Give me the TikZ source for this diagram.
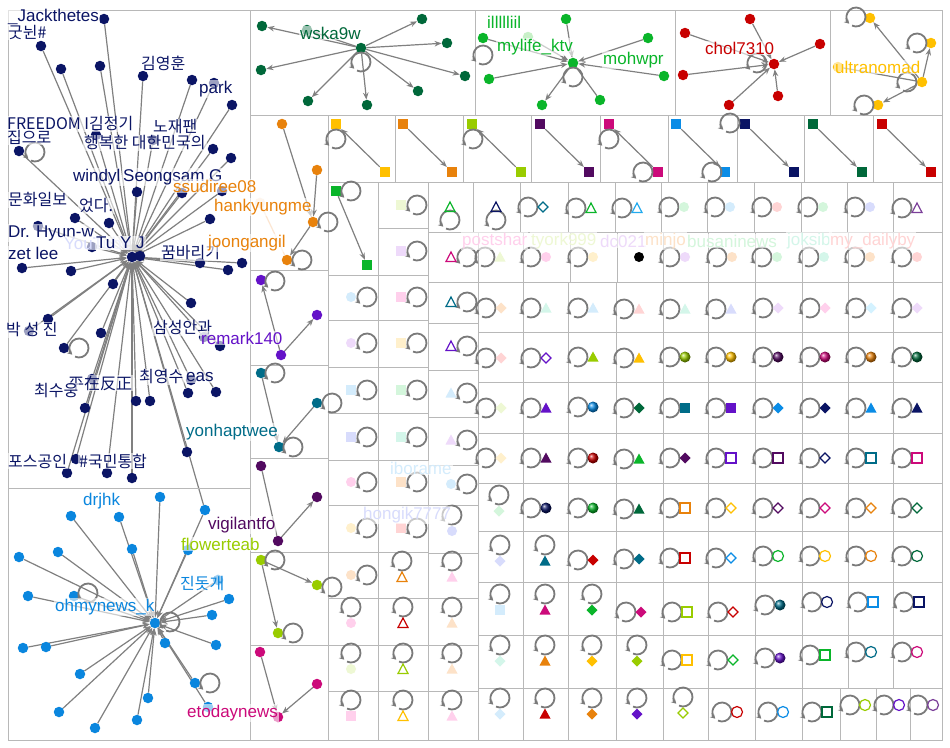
\documentclass[tikz,border=0pt]{standalone}
\usepackage{fontspec}
\setmainfont{Liberation Sans}
\newfontfamily\kr{Noto Sans CJK KR}
\usetikzlibrary{arrows.meta}
\pgfdeclarelayer{bg}
\pgfsetlayers{bg,main}
\definecolor{gridc}{HTML}{B8B8B8}
\definecolor{edgec}{HTML}{808080}
\definecolor{loopc}{HTML}{7A7A7A}
\definecolor{nvy}{HTML}{0B1565}
\definecolor{ohb}{HTML}{0A86DE}
\definecolor{dgreen}{HTML}{00683A}
\definecolor{green}{HTML}{0AB52A}
\definecolor{red}{HTML}{C80000}
\definecolor{amber}{HTML}{FFC000}
\definecolor{orange}{HTML}{E8820C}
\definecolor{lime}{HTML}{99CC00}
\definecolor{dpurple}{HTML}{520A60}
\definecolor{violet}{HTML}{6412C8}
\definecolor{magenta}{HTML}{CC0A7A}
\definecolor{blue}{HTML}{0A8CE6}
\definecolor{navy}{HTML}{0A1464}
\definecolor{teal}{HTML}{006C88}
\definecolor{skyb}{HTML}{22AAEE}
\definecolor{purple}{HTML}{7B3F99}
\definecolor{lpnk}{HTML}{FFD0EC}
\definecolor{lsal}{HTML}{FFD4D4}
\definecolor{lpch}{HTML}{FDE2C8}
\definecolor{lpch2}{HTML}{FFF0CC}
\definecolor{lyel}{HTML}{EEF8D4}
\definecolor{lgrn}{HTML}{D4F6DC}
\definecolor{lmnt}{HTML}{D4F6EA}
\definecolor{lblu}{HTML}{D4ECFC}
\definecolor{lcyn}{HTML}{D4F2FF}
\definecolor{lper}{HTML}{D8DCFC}
\definecolor{llav}{HTML}{EEDAFA}
\definecolor{fadeo}{HTML}{FCE6D2}
\definecolor{fgrn}{HTML}{C8F0C8}
\def\zLp#1#2{\draw[lps] (#1,#2) ++(245:9.5pt) arc[start angle=245,end angle=585,radius=9.5pt];}
\def\zFc#1#2#3{\fill[#1] (#2,#3) circle[radius=5pt];}
\def\zOc#1#2#3{\draw[#1,osh] (#2,#3) circle[radius=5.5pt];}
\def\zSp#1#2#3{\shade[ball color=#1] (#2,#3) circle[radius=5.5pt];}
\def\zFs#1#2#3{\fill[#1] (#2-5,#3-5) rectangle (#2+5,#3+5);}
\def\zOs#1#2#3{\draw[#1,osh] (#2-5,#3-5) rectangle (#2+5,#3+5);}
\def\zFt#1#2#3{\fill[#1] (#2-5.5,#3+4.5) -- (#2+5.5,#3+4.5) -- (#2,#3-5.5) -- cycle;}
\def\zOt#1#2#3{\draw[#1,osh] (#2-5,#3+4.5) -- (#2+5,#3+4.5) -- (#2,#3-5) -- cycle;}
\def\zFd#1#2#3{\fill[#1] (#2,#3-5.5) -- (#2+5.5,#3) -- (#2,#3+5.5) -- (#2-5.5,#3) -- cycle;}
\def\zOd#1#2#3{\draw[#1,osh] (#2,#3-5) -- (#2+5,#3) -- (#2,#3+5) -- (#2-5,#3) -- cycle;}
\def\zCR#1#2#3#4{\zLp{#3}{#4}#1{#2}{#3+15}{#4}}
\def\zCL#1#2#3#4{\zLp{#3}{#4}#1{#2}{#3-16}{#4}}
\def\zCD#1#2#3#4{\zLp{#3}{#4}#1{#2}{#3}{#4+16}}
\def\zCU#1#2#3#4{\zLp{#3}{#4}#1{#2}{#3}{#4-13}}
\begin{document}
\begin{tikzpicture}[x=1pt,y=-1pt,
 gr/.style={draw=gridc, line width=1pt},
 ed/.style={draw=edgec, line width=1.2pt},
 ea/.style={ed, -{Stealth[length=7pt,width=5.5pt]}},
 lps/.style={draw=loopc, line width=1.8pt, -{Stealth[length=5pt,width=5.5pt]}},
 osh/.style={line width=1.2pt},
 nd/.style={circle, inner sep=0pt, minimum size=10.5pt},
 sqn/.style={rectangle, inner sep=0pt, minimum size=10pt},
 lb/.style={anchor=west, inner sep=1pt, fill=white, fill opacity=0.6, text opacity=1, font=\fontsize{17}{19}\selectfont},
 lbk/.style={lb, font=\kr\fontsize{16}{19}\selectfont}]
\useasboundingbox (0,0) rectangle (950,747);
\begin{pgfonlayer}{bg}
\fill[white] (0,0) rectangle (950,747);
\end{pgfonlayer}
% ---------- grid ----------
\draw[gr] (8,10) rectangle (250,488);
\draw[gr] (8,488) rectangle (250,740);
\foreach \a/\b in {250/475,475/675,675/830,830/942} \draw[gr] (\a,10) rectangle (\b,115);
\foreach \a/\b in {115/270,270/365,365/458,458/552,552/645,645/740} \draw[gr] (250,\a) rectangle (328,\b);
\foreach \a/\b in {328/395,395/463,463/531,531/600,600/668,668/737,737/804,804/873,873/942} \draw[gr] (\a,115) rectangle (\b,182);
\draw[gr] (328,182) rectangle (378,275);
\foreach \a/\b in {275/320,320/367,367/413,413/460,460/505,505/552,552/598,598/645,645/691,691/740} \draw[gr] (328,\a) rectangle (378,\b);
\foreach \a/\b in {182/228,228/275,275/320,320/367,367/413,413/460,460/505,505/552,552/598,598/645,645/691,691/740} \draw[gr] (378,\a) rectangle (428,\b);
\foreach \a/\b in {282/323,323/370,370/417,417/465,465/505,505/553,553/598,598/645,645/691,691/740} \draw[gr] (428,\a) rectangle (478,\b);
\foreach \a/\b in {428/473,473/520,520/568,568/615,615/661,661/707,707/754,754/801,801/847,847/893,893/942} \draw[gr] (\a,182) rectangle (\b,232);
\foreach \a/\b in {428/478,478/523,523/570,570/617,617/663,663/708,708/755,755/802,802/848,848/893,893/942} \draw[gr] (\a,232) rectangle (\b,282);
\foreach \r/\s in {282/332,332/382,382/433,433/483,483/531,531/582,582/635,635/688}
  \foreach \a/\b in {478/523,523/568,568/616,616/663,663/708,708/755,755/802,802/848,848/893,893/942}
    \draw[gr] (\a,\r) rectangle (\b,\s);
\foreach \a/\b in {478/523,523/568,568/616,616/663,663/708,708/755,755/802,802/840,840/876,876/910,910/942} \draw[gr] (\a,688) rectangle (\b,740);
% ---------- navy group ----------
\node[nd,fill=nvy] (n0) at (132,257) {};
\foreach \i/\x/\y in {1/104/19,2/41/46,3/61/69,4/100/66,5/143/76,6/192/80,7/214/83,8/232/105,9/96/135,10/153/140,11/213/149,12/231/158,13/19/151,14/137/192,15/182/193,16/222/191,17/210/219,18/75/218,19/109/223,20/38/226,21/92/247,22/22/268,23/71/271,24/140/256,25/200/263,26/228/270,27/242/263,28/113/284,29/191/303,30/48/319,31/29/331,32/64/348,33/101/333,34/204/337,35/220/346,36/92/379,37/191/380,38/188/393,39/216/392,40/85/408,41/136/401,42/150/401,43/187/452,44/76/459,45/67/473,46/107/473,47/132/478}
  \node[nd,fill=nvy] (n\i) at (\x,\y) {};
% ---------- ohmynews group ----------
\node[nd,fill=ohb] (o0) at (155,623) {};
\foreach \i/\x/\y in {1/160/497,2/71/516,3/119/517,4/205/510,5/132/549,6/58/552,7/19/557,8/218/580,9/28/596,10/74/596,11/229/599,12/212/615,13/165/643,14/23/648,15/46/647,16/216/645,17/80/674,18/195/683,19/148/698,20/59/712,21/208/707,22/137/720,23/95/728,24/188/550}
  \node[nd,fill=ohb] (o\i) at (\x,\y) {};
% ---------- small groups ----------
\node[nd,fill=orange] (ha) at (282,124) {};
\node[nd,fill=orange] (hb) at (317,170) {};
\node[nd,fill=orange] (hc) at (313,222) {};
\node[nd,fill=orange] (hd) at (287,260) {};
\node[nd,fill=fadeo] (he) at (260,203) {};
\node[nd,fill=violet] (r1) at (261,280) {};
\node[nd,fill=violet] (r2) at (317,315) {};
\node[nd,fill=violet] (r3) at (281,355) {};
\node[nd,fill=teal] (y1) at (261,373) {};
\node[nd,fill=teal] (y2) at (317,403) {};
\node[nd,fill=teal] (y3) at (279,447) {};
\node[nd,fill=dpurple] (v1) at (261,466) {};
\node[nd,fill=dpurple] (v2) at (317,497) {};
\node[nd,fill=dpurple] (v3) at (278,541) {};
\node[nd,fill=lime] (f1) at (261,560) {};
\node[nd,fill=lime] (f2) at (317,585) {};
\node[nd,fill=lime] (f3) at (278,633) {};
\node[nd,fill=magenta] (e1) at (260,652) {};
\node[nd,fill=magenta] (e2) at (317,684) {};
\node[nd,fill=magenta] (e3) at (278,717) {};
% top groups
\node[nd,fill=dgreen] (W) at (361,48) {};
\foreach \i/\x/\y in {1/262/26,2/307/30,3/422/19,4/447/43,5/261/70,6/465/76,7/418/91,8/308/101,9/367/105}
  \node[nd,fill=dgreen] (w\i) at (\x,\y) {};
\node[nd,fill=green] (M) at (573,63) {};
\foreach \i/\x/\y in {1/483/38,3/566/19,4/489/79,5/542/105,6/600/100,7/648/38,8/664/76}
  \node[nd,fill=green] (m\i) at (\x,\y) {};
\node[nd,fill=fgrn] (m2) at (528,37) {};
\node[nd,fill=red] (C) at (774,64) {};
\foreach \i/\x/\y in {1/750/19,2/685/33,3/820/44,4/683/75,5/778/96,6/729/105}
  \node[nd,fill=red] (c\i) at (\x,\y) {};
\foreach \i/\x/\y in {1/870/18,2/931/43,3/838/67,4/922/82,5/878/105}
  \node[nd,fill=amber] (u\i) at (\x,\y) {};
% pair boxes
\foreach \i/\c/\x in {1/amber/336,2/orange/403,3/lime/472,4/dpurple/540,5/magenta/609,6/blue/676,7/navy/745,8/dgreen/813,9/red/882}{
  \node[sqn,fill=\c] (pa\i) at (\x,124) {};
  \node[sqn,fill=\c] (pb\i) at (\x+49,172) {};}
\node[sqn,fill=green] (ga) at (336,191) {};
\node[sqn,fill=green] (gb) at (367,265) {};
% ---------- edges (background) ----------
\begin{pgfonlayer}{bg}
\foreach \i in {1,...,47} \draw[ea] (n\i) -- (n0);
\draw[ed] (n0) -- (o4);
\foreach \i in {1,...,24} \draw[ea] (o\i) -- (o0);
\draw[ea] (ha) -- (hc); \draw[ea] (hb) -- (hc); \draw[ea] (hc) -- (hd); \draw[ed,draw=fadeo] (he) -- (hd);
\draw[ea] (r3) -- (r1); \draw[ea] (r3) -- (r2);
\draw[ea] (y1) -- (y3); \draw[ea] (y2) -- (y3);
\draw[ed] (v1) -- (v3); \draw[ea] (v3) -- (v2);
\draw[ea] (f1) -- (f2); \draw[ea] (f1) -- (f3);
\draw[ea] (e1) -- (e3); \draw[ea] (e2) -- (e3);
\foreach \i in {1,...,9} \draw[ea] (W) -- (w\i);
\foreach \i in {1,2,3,4,7,8} \draw[ea] (m\i) -- (M);
\draw[ea] (M) -- (m5); \draw[ed] (M) -- (m6);
\foreach \i in {1,...,6} \draw[ea] (c\i) -- (C);
\draw[ea] (u4) -- (u1); \draw[ea] (u4) -- (u2); \draw[ea] (u4) -- (u5); \draw[ed] (u3) -- (u4);
\foreach \i in {1,3,5} \draw[ea] (pb\i) -- (pa\i);
\foreach \i in {2,4,6,7,8,9} \draw[ea] (pa\i) -- (pb\i);
\draw[ea] (ga) -- (gb);
\end{pgfonlayer}
% ---------- loops of groups ----------
\zLp{35}{152} \zLp{79}{348} \zLp{170}{622} \zLp{88}{593} \zLp{210}{683}
\zLp{328}{222} \zLp{302}{260} \zLp{275}{281} \zLp{275}{373} \zLp{332}{403} \zLp{293}{447}
\zLp{275}{560} \zLp{332}{587} \zLp{293}{633}
\zLp{361}{62} \zLp{573}{77} \zLp{483}{55} \zLp{757}{63}
\zLp{856}{17} \zLp{917}{43} \zLp{907}{82} \zLp{864}{105}
\zLp{336}{139} \zLp{473}{139} \zLp{609}{139} \zLp{643}{172} \zLp{712}{172} \zLp{730}{123} \zLp{351}{191}
% ---------- single cells ----------
% column 328-378
\zCL{\zFc}{lblu}{367}{297} \zCL{\zFc}{llav}{367}{343} \zCL{\zFs}{lblu}{367}{390} \zCL{\zFs}{lper}{367}{437}
\zCL{\zFc}{lpnk}{367}{482} \zCL{\zFc}{lpch2}{367}{528} \zCL{\zFc}{lpch}{367}{575}
\zCD{\zFc}{lpnk}{351}{607} \zCD{\zFc}{lyel}{351}{653} \zCD{\zFs}{lpnk}{351}{700}
% column 378-428
\zCL{\zFs}{lyel}{417}{205} \zCL{\zFs}{llav}{417}{251} \zCL{\zFs}{lpnk}{417}{297} \zCL{\zFs}{lpch2}{417}{343}
\zCL{\zFs}{lgrn}{417}{390} \zCL{\zFs}{lmnt}{417}{437} \zCL{\zFs}{lpch}{417}{482} \zCL{\zFs}{lsal}{417}{528}
\zCD{\zOt}{orange}{402}{561} \zCD{\zOt}{red}{403}{607} \zCD{\zOt}{lime}{403}{653} \zCD{\zOt}{amber}{403}{700}
% column 428-478
\zCL{\zOt}{teal}{467}{302} \zCL{\zOt}{violet}{467}{346} \zCL{\zFt}{lblu}{467}{393} \zCL{\zFt}{llav}{467}{440}
\zCL{\zFc}{lblu}{467}{484} \zCD{\zFc}{lper}{452}{515} \zCD{\zFt}{lpnk}{452}{561}
\zCD{\zFt}{lpch}{452}{607} \zCD{\zFt}{lpch}{452}{653} \zCD{\zFt}{lpnk}{452}{700}
% row 182-232
\zCU{\zOt}{green}{450}{220} \zCU{\zOt}{navy}{496}{220} \zCR{\zOd}{teal}{528}{207} \zCR{\zOt}{green}{576}{208}
\zCR{\zOt}{skyb}{622}{208} \zCR{\zFc}{lgrn}{669}{207} \zCR{\zFc}{lblu}{715}{207} \zCR{\zFc}{lsal}{762}{207}
\zCR{\zFc}{lgrn}{808}{207} \zCR{\zFc}{lper}{855}{207} \zCR{\zOt}{purple}{902}{208}
% row 232-282
\zCL{\zOt}{magenta}{467}{257} \zCR{\zFt}{lyel}{485}{257} \zCR{\zFc}{lpnk}{531}{257} \zCR{\zFc}{lpch2}{578}{257}
\zFc{black}{639}{257}
\zCR{\zFc}{llav}{670}{257} \zCR{\zFc}{lpch}{717}{257} \zCR{\zFc}{lgrn}{762}{257} \zCR{\zFc}{lmnt}{809}{257}
\zCR{\zFc}{lpch}{855}{257} \zCR{\zFc}{lsal}{902}{257}
% row A
\zCR{\zFd}{lpch}{486}{308} \zCR{\zFt}{lmnt}{531}{308} \zCR{\zFt}{lblu}{578}{308} \zCR{\zFt}{lsal}{624}{309}
\zCR{\zFt}{lmnt}{670}{309} \zCR{\zFt}{lper}{716}{309} \zCR{\zFd}{llav}{763}{308} \zCR{\zFd}{lpnk}{810}{308}
\zCR{\zFd}{lcyn}{856}{308} \zCR{\zFd}{llav}{902}{308}
% row B
\zCR{\zFd}{lsal}{486}{358} \zCR{\zOd}{violet}{531}{358} \zCR{\zFt}{lime}{578}{357} \zCR{\zFt}{amber}{624}{358}
\zCR{\zSp}{lime}{670}{357} \zCR{\zSp}{amber}{716}{357} \zCR{\zSp}{dpurple}{763}{357} \zCR{\zSp}{magenta}{810}{357}
\zCR{\zSp}{orange}{856}{357} \zCR{\zSp}{dgreen}{902}{357}
% row C
\zCR{\zFd}{lyel}{486}{408} \zCR{\zFt}{violet}{531}{408} \zCR{\zSp}{blue}{578}{407} \zCR{\zFd}{dgreen}{624}{408}
\zCR{\zFs}{teal}{670}{408} \zCR{\zFs}{violet}{716}{408} \zCR{\zFd}{blue}{763}{408} \zCR{\zFd}{navy}{810}{408}
\zCR{\zFt}{blue}{856}{408} \zCR{\zFt}{navy}{902}{408}
% row D
\zCR{\zFd}{lpch2}{486}{458} \zCR{\zFt}{dpurple}{531}{458} \zCR{\zSp}{red}{578}{458} \zCR{\zFt}{green}{624}{459}
\zCR{\zFd}{dpurple}{670}{458} \zCR{\zOs}{violet}{716}{458} \zCR{\zOs}{dpurple}{763}{458} \zCR{\zOd}{navy}{810}{458}
\zCR{\zOs}{teal}{856}{458} \zCR{\zOs}{magenta}{902}{458}
% row E
\zCD{\zFd}{lgrn}{499}{495} \zCR{\zSp}{navy}{531}{508} \zCR{\zSp}{green}{578}{508} \zCR{\zFt}{dgreen}{624}{509}
\zCR{\zOs}{orange}{670}{508} \zCR{\zOd}{amber}{716}{508} \zCR{\zOd}{dpurple}{763}{508} \zCR{\zOd}{magenta}{810}{508}
\zCR{\zOd}{orange}{856}{508} \zCR{\zOd}{dgreen}{902}{508}
% row F
\zCD{\zFd}{lper}{500}{545} \zCD{\zFt}{teal}{545}{545} \zCR{\zFd}{red}{578}{560} \zCR{\zFd}{teal}{624}{559}
\zCR{\zOs}{red}{670}{558} \zCR{\zOd}{blue}{716}{558} \zCR{\zOc}{green}{763}{556} \zCR{\zOc}{amber}{810}{556}
\zCR{\zOc}{orange}{856}{556} \zCR{\zOc}{dgreen}{902}{556}
% row G
\zCD{\zFs}{lblu}{500}{594} \zCD{\zFt}{magenta}{545}{594} \zCD{\zFd}{green}{592}{594} \zCR{\zFd}{magenta}{626}{612}
\zCR{\zOs}{lime}{672}{612} \zCR{\zOd}{red}{718}{612} \zCR{\zSp}{teal}{765}{605} \zCR{\zOc}{navy}{812}{602}
\zCR{\zOs}{blue}{858}{602} \zCR{\zOs}{navy}{904}{602}
% row H
\zCD{\zFd}{lmnt}{500}{645} \zCD{\zFt}{orange}{545}{645} \zCD{\zFd}{amber}{592}{645} \zCD{\zFd}{lime}{637}{645}
\zCR{\zOs}{amber}{672}{660} \zCR{\zOd}{green}{718}{660} \zCR{\zSp}{violet}{765}{658} \zCR{\zOs}{green}{810}{655}
\zCR{\zOc}{teal}{856}{652} \zCR{\zOc}{magenta}{902}{652}
% row I
\zCD{\zFd}{lblu}{500}{698} \zCD{\zFt}{red}{545}{698} \zCD{\zFd}{orange}{592}{698} \zCD{\zFd}{violet}{637}{698}
\zCD{\zOd}{lime}{683}{697} \zCR{\zOc}{red}{722}{712} \zCR{\zOc}{blue}{768}{712} \zCR{\zOs}{dgreen}{812}{712}
\zCR{\zOc}{lime}{850}{705} \zCR{\zOc}{violet}{884}{705} \zCR{\zOc}{purple}{918}{705}
% ---------- labels ----------
\begin{scope}[text=nvy]
\node[lb] (l1) at (7,17) {\_Jackthetes};
\node[lbk] (l2) at (7,32) {굿뉜\#};
\node[lbk] (l3) at (140,63) {김영훈};
\node[lb] (l4) at (198,89) {park};
\node[lbk] (l5) at (6,124) {FREEDOM I김정기};
\node[lbk] (l6) at (152,127) {노재팬};
\node[lbk] (l7) at (6,137) {집으로};
\node[lbk] (l8) at (83,143) {행복한 대한민국의};
\node[lb] (l9) at (72,177) {windyl};
\node[lb] (l10) at (122,177) {Seongsam G};
\node[lbk] (l11) at (7,200) {문화일보};
\node[lbk] (l12) at (78,206) {었다.};
\node[lb] (l13) at (7,233) {Dr. Hyun-w};
\node[lb,text=lper] (l14) at (63,243) {YouTube};
\node[lb] (l15) at (95,243) {Tu Y J};
\node[lb] (l16) at (7,253) {zet lee};
\node[lbk] (l17) at (160,253) {꿈바리기};
\node[lbk] (l18) at (5,330) {박 성 진};
\node[lbk] (l19) at (152,328) {삼성안과};
\node[lbk] (l20) at (67,383) {平在反正};
\node[lbk] (l21) at (33,391) {최수웅};
\node[lbk] (l22) at (138,377) {최영수};
\node[lb] (l23) at (185,377) {eas};
\node[lbk] (l24) at (7,461) {포스공인};
\node[lbk] (l25) at (78,461) {\#국민통합};
\end{scope}
\node[lb,text=ohb] (l26) at (82,501) {drjhk};
\node[lb,text=ohb] (l27) at (54,607) {ohmynews\_k};
\node[lbk,text=ohb] (l28) at (179,583) {진돗개};
\node[lb,text=orange] (l29) at (172,186) {ssudiree08};
\node[lb,text=orange] (l30) at (213,207) {hankyungme};
\node[lb,text=orange] (l31) at (207,243) {joongangil};
\node[lb,text=violet] (l32) at (200,338) {remark140};
\node[lb,text=teal] (l33) at (185,432) {yonhaptwee};
\node[lb,text=dpurple] (l34) at (207,525) {vigilantfo};
\node[lb,text=lime] (l35) at (180,544) {flowerteab};
\node[lb,text=magenta] (l36) at (186,713) {etodaynews};
\node[lb,text=dgreen] (l37) at (299,33) {wska9w};
\node[lb,text=green] (l38) at (486,22) {illllliil};
\node[lb,text=green] (l39) at (496,47) {mylife\_ktv};
\node[lb,text=green] (l40) at (602,60) {mohwpr};
\node[lb,text=red] (l41) at (704,48) {chol7310};
\node[lb,text=amber] (l42) at (834,67) {ultranomad};
\node[lb,text=lpnk] (l43) at (461,241) {postshar};
\node[lb,text=lyel] (l44) at (530,241) {tyork999};
\node[lb,text=llav] (l45) at (599,241) {dc021};
\node[lb,text=lpch] (l46) at (644,241) {minjo};
\node[lb,text=lgrn] (l47) at (686,241) {busaninews};
\node[lb,text=lmnt] (l48) at (786,241) {joksib};
\node[lb,text=lsal] (l49) at (829,241) {my\_dailyby};
\node[lb,text=lblu] (l50) at (389,468) {iborame};
\node[lb,text=lper] (l51) at (362,515) {hongik7777};
\end{tikzpicture}
\end{document}
